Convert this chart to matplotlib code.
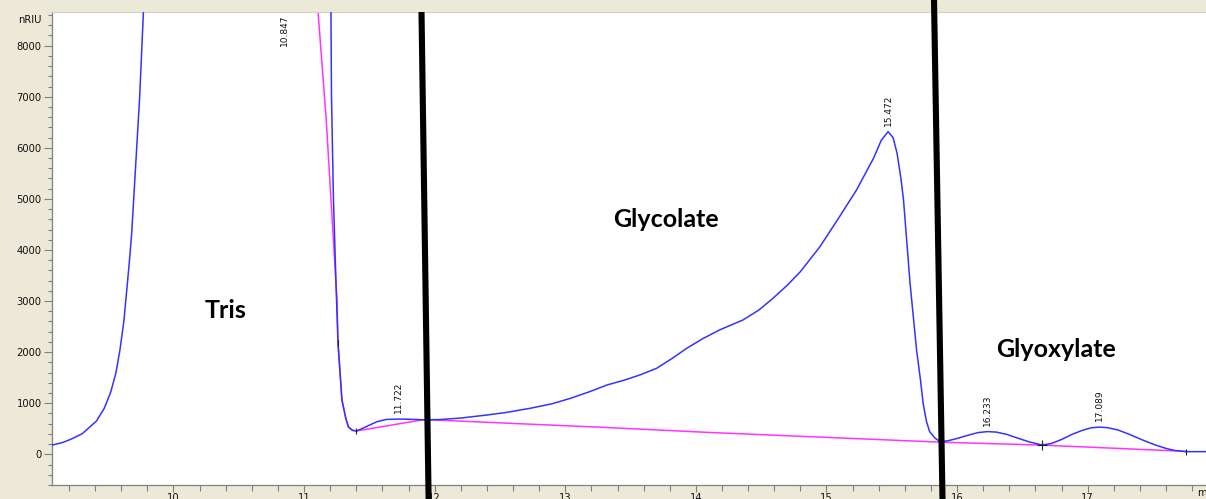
import matplotlib.pyplot as plt
from matplotlib.lines import Line2D
from matplotlib.ticker import MultipleLocator

# RI detector trace (retention time in min, signal in nRIU)
rt = [9.07, 9.15, 9.21, 9.30, 9.41, 9.47, 9.52, 9.56, 9.59, 9.62, 9.64,
      9.66, 9.68, 9.71, 9.74, 9.77, 9.80,
      10.847, 11.205, 11.21, 11.225, 11.245, 11.26, 11.29, 11.32, 11.34,
      11.37, 11.40, 11.45, 11.50, 11.56, 11.63, 11.722, 11.82, 11.92,
      12.04, 12.20, 12.40, 12.55, 12.73, 12.90, 13.04, 13.18, 13.32, 13.45,
      13.57, 13.70, 13.82, 13.93, 14.05, 14.18, 14.36, 14.48, 14.59, 14.70,
      14.80, 14.95, 15.10, 15.23, 15.36, 15.42, 15.472, 15.51, 15.54, 15.57,
      15.59, 15.64, 15.69, 15.72, 15.74, 15.765, 15.79, 15.83, 15.87,
      15.93, 16.00, 16.08, 16.16, 16.233, 16.30, 16.38, 16.46, 16.55, 16.65,
      16.72, 16.80, 16.88, 16.96, 17.03, 17.089, 17.15, 17.23, 17.32, 17.42,
      17.52, 17.60, 17.66, 17.75, 17.91]
signal = [180, 230, 290, 400, 650, 900, 1220, 1600, 2040, 2600, 3150,
          3700, 4320, 5630, 6930, 8660, 9800,
          40000, 9000, 7000, 5000, 3300, 2180, 1063, 700, 534,
          470, 456, 510, 570, 640, 682, 690, 685, 675,
          680, 710, 769, 820, 900, 990, 1096, 1220, 1357, 1450,
          1552, 1684, 1880, 2075, 2260, 2433, 2629, 2820, 3054, 3310,
          3575, 4064, 4652, 5174, 5795, 6150, 6316, 6200, 5900, 5400,
          4979, 3348, 2042, 1450, 998, 650, 443, 320, 247,
          265, 310, 370, 425, 444, 435, 390, 320, 245, 183,
          210, 290, 390, 470, 520, 532, 522, 478, 390, 280,
          180, 115, 78, 52, 52]

# integration baseline
base_rt = [11.10, 11.17, 11.252, 11.26, 11.29, 11.32, 11.34, 11.37, 11.40,
           11.92, 13.27, 14.10, 15.87, 16.65, 17.75]
base_sig = [8900, 6540, 3023, 2180, 1063, 700, 534, 470, 456,
            680, 530, 428, 238, 180, 58]

# peak apex labels
peak_rt = [10.847, 11.722, 15.472, 16.233, 17.089]
peak_lbl = ['10.847', '11.722', '15.472', '16.233', '17.089']
peak_top = [7880, 690, 6316, 444, 532]

# integration event marks
tick_rt = [11.26, 11.40, 17.75]
tick_sig = [2180, 456, 52]
cross_rt = [16.65]
cross_sig = [183]

regions = ['Tris', 'Glycolate', 'Glyoxylate']
region_x = [10.40, 13.77, 16.757]
region_y = [2669, 4450, 1907]

W, H = 1206, 499
fig = plt.figure(figsize=(W / 100, H / 100), dpi=100, facecolor='#ece9d8')
ax = fig.add_axes([52 / W, 14 / H, (W - 52) / W, (485 - 12) / H])
ax.set_facecolor('white')

ax.plot(rt, signal, color='#3333ff', lw=1.1, zorder=3)
ax.plot(base_rt, base_sig, color='#ff33ff', lw=1.1, zorder=2)
ax.plot(tick_rt, tick_sig, ls='none', marker='|', ms=4, mew=0.8,
        color='#202020', zorder=4)
ax.plot(cross_rt, cross_sig, ls='none', marker='+', ms=7, mew=0.8,
        color='#202020', zorder=4)

for x, t, y in zip(peak_rt, peak_lbl, peak_top):
    ax.annotate(t, (x, y), xytext=(0, 6), textcoords='offset pixels',
                rotation=90, ha='center', va='bottom', fontsize=6.5,
                family='DejaVu Sans', color='#111111')

for t, x, y in zip(regions, region_x, region_y):
    ax.text(x, y, t, ha='center', va='baseline', fontsize=18,
            family='Lato', fontweight='bold', color='black', zorder=5)

ax.set_xlim(9.07, 17.906)
ax.set_ylim(-601, 8659)

ax.xaxis.set_major_locator(MultipleLocator(1))
ax.xaxis.set_minor_locator(MultipleLocator(0.2))
ax.yaxis.set_major_locator(MultipleLocator(1000))
ax.yaxis.set_minor_locator(MultipleLocator(200))
ax.tick_params(axis='both', which='both', colors='#808080', labelcolor='#111111',
               labelsize=7.2, width=0.8)
ax.tick_params(axis='y', which='major', length=6, pad=1.5)
ax.tick_params(axis='y', which='minor', length=3)
ax.tick_params(axis='x', which='major', length=5, pad=1)
ax.tick_params(axis='x', which='minor', length=4)

for s in ['left', 'bottom']:
    ax.spines[s].set_color('#808080')
    ax.spines[s].set_linewidth(0.9)
ax.spines['top'].set_color('#d6d2bf')
ax.spines['top'].set_linewidth(0.8)
ax.spines['right'].set_visible(False)

fig.text(42 / W, 1 - 20 / H, 'nRIU', ha='right', va='center', fontsize=7.2,
         color='#111111')
fig.text(1197 / W, 1 - 493 / H, 'min', ha='left', va='center', fontsize=7.2,
         color='#111111')

# fraction cut lines drawn over the figure
fig.add_artist(Line2D([421.5 / W, 428.6 / W], [1 - 12 / H, 1 - 499 / H],
                      color='black', lw=4.4, solid_capstyle='butt'))
fig.add_artist(Line2D([934 / W, 942.5 / W], [1.0, 0.0],
                      color='black', lw=4.4, solid_capstyle='butt'))

fig.savefig('out.png', dpi=100, facecolor=fig.get_facecolor())
